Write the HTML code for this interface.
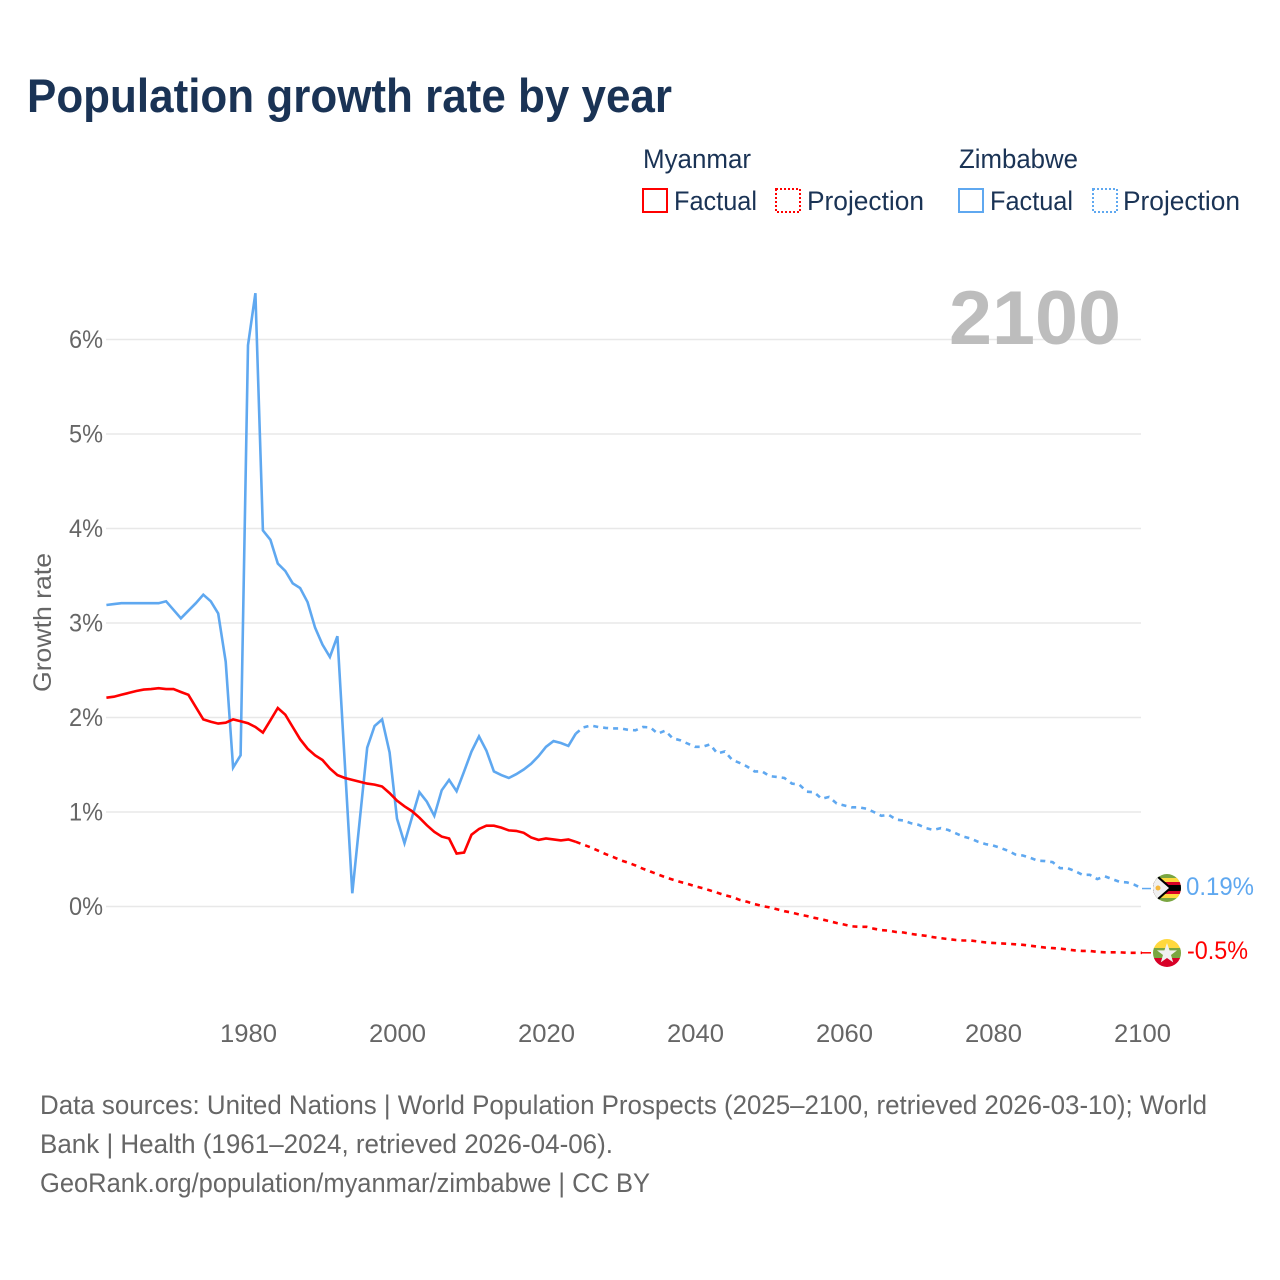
<!DOCTYPE html>
<html lang="en">
<head>
<meta charset="utf-8">
<title>Population growth rate by year</title>
<style>
html,body{margin:0;padding:0;background:#fff;width:1280px;height:1280px;overflow:hidden}
svg{display:block;font-family:"Liberation Sans",sans-serif}
</style>
</head>
<body>
<svg id="chart" width="1280" height="1280" viewBox="0 0 1280 1280">
<defs>
<clipPath id="clip-zw"><circle cx="1167" cy="888" r="14"/></clipPath>
<clipPath id="clip-mm"><circle cx="1167" cy="953" r="14"/></clipPath>
</defs>
<rect width="1280" height="1280" fill="#fff"/>
<text x="27" y="112" font-size="47" font-weight="bold" fill="#1a3355" textLength="645" lengthAdjust="spacingAndGlyphs">Population growth rate by year</text>

<g font-size="27" fill="#1a3355">
<text x="643" y="168" textLength="108" lengthAdjust="spacingAndGlyphs">Myanmar</text>
<text x="959" y="168" textLength="119" lengthAdjust="spacingAndGlyphs">Zimbabwe</text>
<rect x="643" y="189" width="24" height="23" fill="none" stroke="#ff0000" stroke-width="2"/>
<text x="674" y="210" textLength="83" lengthAdjust="spacingAndGlyphs">Factual</text>
<rect x="776" y="189" width="24" height="23" fill="none" stroke="#ff0000" stroke-width="2" stroke-dasharray="2 2"/>
<text x="807" y="210" textLength="117" lengthAdjust="spacingAndGlyphs">Projection</text>
<rect x="959" y="189" width="24" height="23" fill="none" stroke="#5fa8f0" stroke-width="2"/>
<text x="990" y="210" textLength="83" lengthAdjust="spacingAndGlyphs">Factual</text>
<rect x="1093" y="189" width="24" height="23" fill="none" stroke="#5fa8f0" stroke-width="2" stroke-dasharray="2 2"/>
<text x="1123" y="210" textLength="117" lengthAdjust="spacingAndGlyphs">Projection</text>
</g>

<g id="grid"></g>
<text x="949" y="344" font-size="76" font-weight="bold" fill="#bdbdbd" textLength="172" lengthAdjust="spacingAndGlyphs">2100</text>
<g id="yticks" font-size="25" fill="#666"></g>
<g id="xticks" font-size="25" fill="#666"></g>
<text transform="translate(51,692) rotate(-90)" font-size="25" fill="#666" textLength="139" lengthAdjust="spacingAndGlyphs">Growth rate</text>
<g id="series"></g>

<g clip-path="url(#clip-zw)">
<rect x="1153" y="874" width="28" height="28" fill="#7aa641"/>
<rect x="1153" y="878" width="28" height="4" fill="#ffd83d"/>
<rect x="1153" y="882" width="28" height="3" fill="#d80027"/>
<rect x="1153" y="885" width="28" height="6" fill="#000"/>
<rect x="1153" y="891" width="28" height="3" fill="#d80027"/>
<rect x="1153" y="894" width="28" height="4" fill="#ffd83d"/>
<polygon points="1153,872 1154,872 1172,888 1154,904 1153,904" fill="#000"/>
<polygon points="1153,874 1169,888 1153,902" fill="#f0f0f0"/>
<circle cx="1158" cy="888" r="2.5" fill="#f5b83d"/>
</g>
<g clip-path="url(#clip-mm)">
<rect x="1153" y="939" width="28" height="10" fill="#ffd83d"/>
<rect x="1153" y="948" width="28" height="10" fill="#7aa641"/>
<rect x="1153" y="958" width="28" height="9" fill="#d80027"/>
<polygon points="1167,943 1169.6,950.4 1177,950.4 1171,955 1173.2,962.4 1167,958 1160.8,962.4 1163,955 1157,950.4 1164.4,950.4" fill="#f0f0f0"/>
</g>
<text x="1186" y="895" font-size="25" fill="#5fa8f0" textLength="68" lengthAdjust="spacingAndGlyphs">0.19%</text>
<text x="1187" y="959" font-size="25" fill="#ff0000" textLength="61" lengthAdjust="spacingAndGlyphs">-0.5%</text>

<g font-size="27" fill="#666">
<text x="40" y="1114" textLength="1167" lengthAdjust="spacingAndGlyphs">Data sources: United Nations | World Population Prospects (2025–2100, retrieved 2026-03-10); World</text>
<text x="40" y="1153" textLength="573" lengthAdjust="spacingAndGlyphs">Bank | Health (1961–2024, retrieved 2026-04-06).</text>
<text x="40" y="1192" textLength="610" lengthAdjust="spacingAndGlyphs">GeoRank.org/population/myanmar/zimbabwe | CC BY</text>
</g>
</svg>
<script>
const yTickValues = [0, 1, 2, 3, 4, 5, 6];
const yTickLabels = ['0%', '1%', '2%', '3%', '4%', '5%', '6%'];
const xTickValues = [1980, 2000, 2020, 2040, 2060, 2080, 2100];
const xTickLabels = ['1980', '2000', '2020', '2040', '2060', '2080', '2100'];
const factualStartYear = 1961;
const projectionStartYear = 2024;

const myanmarFactual = [2.21,2.22,2.24,2.26,2.28,2.295,2.30,2.31,2.30,2.30,2.27,2.24,2.11,1.98,1.955,1.935,1.945,1.98,1.96,1.94,1.90,1.84,1.97,2.10,2.03,1.90,1.77,1.67,1.60,1.55,1.46,1.39,1.36,1.34,1.32,1.30,1.29,1.27,1.20,1.12,1.06,1.01,0.94,0.86,0.79,0.74,0.72,0.56,0.57,0.76,0.82,0.855,0.855,0.835,0.805,0.80,0.78,0.73,0.705,0.72,0.71,0.70,0.71,0.685];
const zimbabweFactual = [3.19,3.20,3.21,3.21,3.21,3.21,3.21,3.21,3.23,3.14,3.05,3.13,3.21,3.30,3.23,3.10,2.59,1.47,1.60,5.94,6.49,3.98,3.88,3.63,3.55,3.42,3.37,3.22,2.95,2.77,2.64,2.86,1.50,0.14,0.92,1.68,1.91,1.98,1.63,0.93,0.67,0.94,1.21,1.11,0.96,1.23,1.34,1.22,1.43,1.64,1.80,1.65,1.43,1.39,1.36,1.40,1.45,1.51,1.59,1.69,1.75,1.73,1.70,1.83];
const myanmarProjection = [
  0.685,0.655,0.625,0.59,0.555,0.525,
  0.49,0.465,0.435,0.40,0.37,0.34,0.31,0.285,0.26,0.24,
  0.215,0.195,0.17,0.145,0.12,0.10,0.07,0.05,0.025,0.005,
  -0.01,-0.03,-0.05,-0.065,-0.085,-0.10,-0.12,-0.135,-0.155,-0.175,
  -0.19,-0.21,-0.215,-0.215,-0.235,-0.25,-0.255,-0.27,-0.275,-0.29,
  -0.30,-0.31,-0.325,-0.335,-0.345,-0.355,-0.36,-0.36,-0.37,-0.38,
  -0.385,-0.39,-0.395,-0.40,-0.405,-0.415,-0.425,-0.435,-0.44,-0.445,
  -0.455,-0.465,-0.47,-0.47,-0.48,-0.485,-0.485,-0.485,-0.49,-0.49,
  -0.49];
const zimbabweProjection = [
  1.83,1.895,1.915,1.90,1.89,1.885,
  1.885,1.87,1.865,1.90,1.895,1.83,1.86,1.78,1.76,1.725,
  1.69,1.69,1.715,1.62,1.64,1.55,1.52,1.48,1.43,1.43,
  1.38,1.37,1.36,1.30,1.29,1.215,1.21,1.14,1.16,1.09,
  1.07,1.05,1.05,1.035,1.00,0.96,0.97,0.92,0.91,0.88,
  0.865,0.83,0.81,0.83,0.81,0.775,0.74,0.72,0.685,0.66,
  0.645,0.62,0.59,0.55,0.54,0.515,0.485,0.48,0.47,0.405,
  0.405,0.375,0.335,0.335,0.29,0.32,0.29,0.26,0.255,0.23,
  0.19];

const svgNS = 'http://www.w3.org/2000/svg';
function xScale(year) { return 248 + (year - 1980) * 7.45; }
function yScale(value) { return 906.5 - value * 94.5; }
function linePath(values, startYear) {
  return values.map(function (v, i) {
    return (i ? 'L' : 'M') + xScale(startYear + i).toFixed(1) + ' ' + yScale(v).toFixed(1);
  }).join('');
}

const gridGroup = document.getElementById('grid');
const yTickGroup = document.getElementById('yticks');
yTickValues.forEach(function (v, i) {
  const line = document.createElementNS(svgNS, 'line');
  
  
  line.setAttribute('x1', 106);
  line.setAttribute('x2', 1141);
  line.setAttribute('y1', yScale(v));
  line.setAttribute('y2', yScale(v));
  line.setAttribute('stroke', '#e8e8e8');
  line.setAttribute('stroke-width', 1.5);
  gridGroup.appendChild(line);
  const label = document.createElementNS(svgNS, 'text');
  
  
  label.setAttribute('x', 69);
  label.setAttribute('y', yScale(v) + 8.5);
  label.setAttribute('textLength', 34);
  label.setAttribute('lengthAdjust', 'spacingAndGlyphs');
  label.textContent = yTickLabels[i];
  yTickGroup.appendChild(label);
});

const xTickGroup = document.getElementById('xticks');
xTickValues.forEach(function (v, i) {
  const label = document.createElementNS(svgNS, 'text');
  
  
  label.setAttribute('x', xScale(v) - 28);
  label.setAttribute('y', 1042);
  label.setAttribute('textLength', 57);
  label.setAttribute('lengthAdjust', 'spacingAndGlyphs');
  label.textContent = xTickLabels[i];
  xTickGroup.appendChild(label);
});

const seriesGroup = document.getElementById('series');
function addSeries(values, startYear, color, dashed, name) {
  const path = document.createElementNS(svgNS, 'path');
  
  
  path.setAttribute('d', linePath(values, startYear));
  path.setAttribute('fill', 'none');
  path.setAttribute('stroke', color);
  path.setAttribute('stroke-width', 2.6);
  path.setAttribute('stroke-linejoin', 'miter');
  if (dashed) path.setAttribute('stroke-dasharray', '5 5');
  seriesGroup.appendChild(path);
}
addSeries(zimbabweFactual, factualStartYear, '#5fa8f0', false, 'zimbabwe-factual-line');
addSeries(myanmarFactual, factualStartYear, '#ff0000', false, 'myanmar-factual-line');
addSeries(zimbabweProjection, projectionStartYear, '#5fa8f0', true, 'zimbabwe-projection-line');
addSeries(myanmarProjection, projectionStartYear, '#ff0000', true, 'myanmar-projection-line');

function addLeader(lastValue, color, name) {
  const line = document.createElementNS(svgNS, 'line');
  
  
  line.setAttribute('x1', xScale(2100));
  line.setAttribute('x2', 1151);
  line.setAttribute('y1', yScale(lastValue));
  line.setAttribute('y2', yScale(lastValue));
  line.setAttribute('stroke', color);
  line.setAttribute('stroke-width', 1.5);
  seriesGroup.appendChild(line);
}
addLeader(zimbabweProjection[zimbabweProjection.length - 1], '#5fa8f0', 'zimbabwe-leader-line');
addLeader(myanmarProjection[myanmarProjection.length - 1], '#ff0000', 'myanmar-leader-line');
</script>
</body>
</html>
